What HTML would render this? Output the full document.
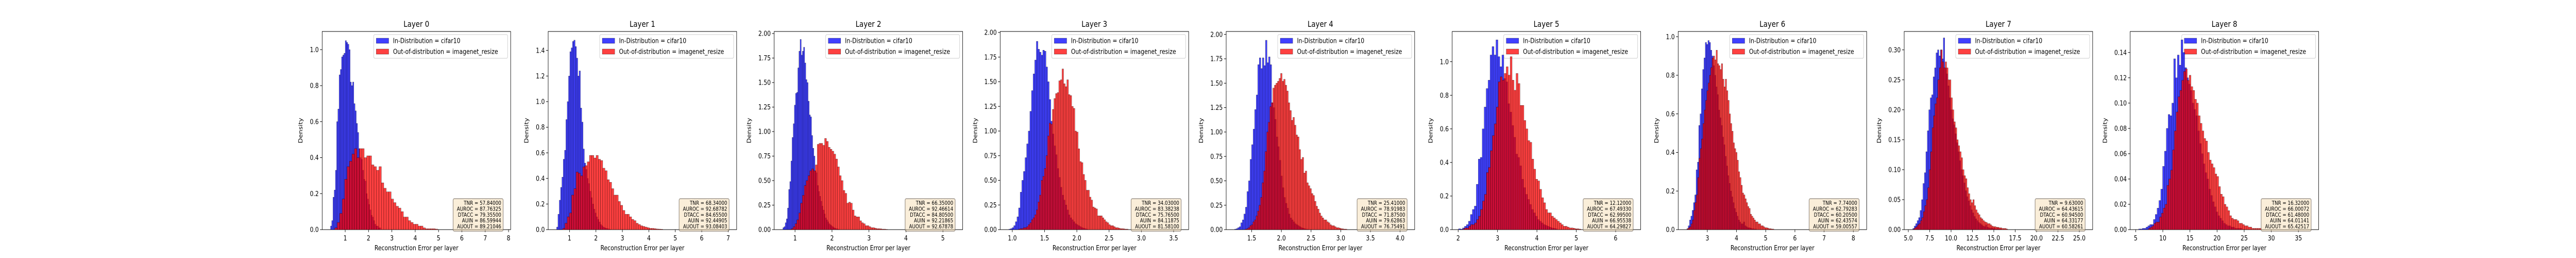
<!DOCTYPE html>
<html><head><meta charset="utf-8"><style>
html,body{margin:0;padding:0;background:#fff;width:100%;height:100%;overflow:hidden;}
svg{display:block;width:100vw;height:100vh;font-family:"DejaVu Sans","Liberation Sans",sans-serif;}
</style></head><body>
<svg id="fig" viewBox="0 0 6000 500" preserveAspectRatio="none" xmlns="http://www.w3.org/2000/svg"></svg>
<script>
// ---- data per layer ----
const layerTitles = ["Layer 0","Layer 1","Layer 2","Layer 3","Layer 4","Layer 5","Layer 6","Layer 7","Layer 8"];
const xDomains = [[0.013,8.09],[0.194,7.32],[0.436,5.534],[0.812,3.733],[1.070,4.245],[1.848,6.635],[2.002,8.457],[4.516,26.56],[3.983,38.73]];
const yMaxes = [1.101,1.548,2.021,2.010,2.030,1.180,1.027,0.3307,0.1566];
const xTicks = [[1,2,3,4,5,6,7,8],[1,2,3,4,5,6,7],[1,2,3,4,5],[1.0,1.5,2.0,2.5,3.0,3.5],[1.5,2.0,2.5,3.0,3.5,4.0],[2,3,4,5,6],[3,4,5,6,7,8],[5,7.5,10,12.5,15,17.5,20,22.5,25],[5,10,15,20,25,30,35]];
const xTickDecimals = [0,0,0,1,1,0,0,1,0];
const yTicks = [[0,0.2,0.4,0.6,0.8,1.0],[0,0.2,0.4,0.6,0.8,1.0,1.2,1.4],[0,0.25,0.5,0.75,1,1.25,1.5,1.75,2],[0,0.25,0.5,0.75,1,1.25,1.5,1.75,2],[0,0.25,0.5,0.75,1,1.25,1.5,1.75,2],[0,0.2,0.4,0.6,0.8,1.0],[0,0.2,0.4,0.6,0.8,1.0],[0,0.05,0.1,0.15,0.2,0.25,0.3],[0,0.02,0.04,0.06,0.08,0.1,0.12,0.14]];
const yTickDecimals = [1,1,2,2,2,1,1,2,2];
const inStart = [0.37,0.513,0.672,0.947,1.212,2.01,2.30,5.52,5.54];
const inWidth = [0.0526,0.05,0.031,0.025,0.026,0.05,0.045,0.17,0.34];
const outStart = [0.555,0.745,0.900,1.095,1.388,2.12,2.31,5.57,7.37];
const outWidth = [0.105,0.084,0.05,0.025,0.026,0.05,0.045,0.17,0.34];
const inVals = [
[0.02,0.05,0.18,0.22,0.33,0.6,0.67,0.86,0.89,0.96,0.97,0.98,1.05,1.04,1.03,1.0,0.82,0.8,0.82,0.70,0.66,0.59,0.54,0.45,0.40,0.39,0.33,0.28,0.27,0.2,0.17,0.14,0.11,0.08,0.07,0.05,0.03,0.02,0.02,0.01,0.01],
[0.02,0.12,0.23,0.33,0.41,0.55,0.62,0.86,1.0,1.2,1.39,1.42,1.47,1.48,1.43,1.34,1.2,1.24,0.95,0.84,0.63,0.52,0.47,0.4,0.36,0.3,0.25,0.2,0.16,0.13,0.1,0.08,0.06,0.04,0.03,0.02,0.015,0.01,0.008,0.005,0.003],
[0.02,0.03,0.07,0.11,0.22,0.41,0.49,0.7,0.94,1.08,1.27,1.39,1.40,1.65,1.82,1.94,1.78,1.82,1.86,1.7,1.53,1.5,1.31,1.17,1.15,0.96,0.83,0.75,0.6,0.58,0.45,0.39,0.34,0.29,0.24,0.2,0.16,0.12,0.1,0.08,0.06,0.05,0.04,0.03,0.02,0.015,0.01,0.008,0.005],
[0.005,0.01,0.02,0.04,0.08,0.13,0.22,0.38,0.5,0.59,0.73,0.87,1.0,1.2,1.41,1.58,1.72,1.91,1.83,1.8,1.77,1.82,1.81,1.65,1.5,1.32,1.1,0.97,0.85,0.76,0.62,0.53,0.43,0.35,0.3,0.25,0.2,0.15,0.12,0.1,0.08,0.06,0.05,0.04,0.03,0.02,0.015,0.01,0.005],
[0.005,0.01,0.02,0.03,0.07,0.1,0.16,0.23,0.39,0.5,0.72,0.87,1.03,1.23,1.38,1.69,1.76,1.65,1.76,1.68,1.94,1.71,1.77,1.69,1.3,1.25,1.13,0.95,0.85,0.71,0.55,0.43,0.33,0.27,0.22,0.16,0.12,0.1,0.08,0.06,0.05,0.04,0.03,0.02,0.015,0.01,0.005,0.005],
[0.005,0.003,0.01,0.02,0.03,0.05,0.09,0.12,0.14,0.27,0.42,0.43,0.6,0.73,0.84,0.89,1.04,1.09,1.04,1.13,1.03,0.97,1.04,0.9,0.88,0.75,0.7,0.62,0.55,0.45,0.43,0.38,0.3,0.25,0.21,0.18,0.15,0.12,0.1,0.08,0.06,0.05,0.04,0.03,0.025,0.02,0.015,0.01,0.008,0.005],
[0.005,0.02,0.05,0.07,0.1,0.14,0.18,0.31,0.35,0.54,0.6,0.73,0.83,0.89,0.97,0.96,0.98,0.97,0.93,0.9,0.85,0.8,0.74,0.7,0.62,0.58,0.54,0.48,0.44,0.38,0.33,0.28,0.24,0.2,0.17,0.14,0.11,0.09,0.07,0.05,0.04,0.03,0.03,0.04,0.02,0.015,0.01,0.01,0.008,0.005,0.005,0.003,0.003],
[0.002,0.006,0.01,0.015,0.02,0.032,0.05,0.077,0.095,0.13,0.165,0.2,0.22,0.225,0.255,0.27,0.295,0.3,0.29,0.3,0.285,0.32,0.27,0.26,0.24,0.22,0.2,0.185,0.175,0.16,0.145,0.13,0.115,0.1,0.09,0.078,0.065,0.055,0.048,0.04,0.033,0.028,0.022,0.018,0.015,0.012,0.01,0.008,0.006,0.005,0.008,0.004,0.003,0.002,0.003,0.002,0.002,0.001,0.002,0.001,0.001],
[0.0005,0.0005,0.001,0.001,0.002,0.003,0.004,0.004,0.008,0.012,0.017,0.023,0.032,0.05,0.062,0.08,0.091,0.09,0.1,0.135,0.12,0.138,0.13,0.15,0.14,0.128,0.12,0.115,0.11,0.1,0.095,0.09,0.078,0.068,0.06,0.052,0.045,0.04,0.032,0.027,0.022,0.018,0.014,0.011,0.009,0.007,0.005,0.004,0.003,0.003,0.002,0.002,0.001,0.001,0.001,0.001]
];
const outVals = [
[0.01,0.04,0.09,0.17,0.28,0.35,0.38,0.42,0.45,0.40,0.45,0.45,0.40,0.41,0.41,0.36,0.35,0.33,0.35,0.26,0.23,0.21,0.21,0.17,0.15,0.13,0.12,0.10,0.07,0.07,0.05,0.04,0.03,0.03,0.02,0.02,0.01,0.005,0.005,0.005,0.005,0.003],
[0.01,0.05,0.1,0.13,0.27,0.32,0.45,0.44,0.42,0.49,0.50,0.53,0.58,0.58,0.56,0.58,0.55,0.54,0.48,0.46,0.39,0.37,0.32,0.27,0.27,0.22,0.19,0.15,0.12,0.12,0.1,0.08,0.07,0.05,0.04,0.03,0.025,0.02,0.015,0.01,0.01,0.008,0.005,0.004,0.003],
[0.01,0.03,0.06,0.1,0.17,0.27,0.35,0.45,0.5,0.55,0.6,0.62,0.6,0.66,0.87,0.88,0.88,0.86,0.93,0.9,0.84,0.82,0.8,0.77,0.72,0.64,0.55,0.5,0.4,0.37,0.27,0.28,0.27,0.2,0.14,0.13,0.13,0.09,0.07,0.06,0.04,0.04,0.03,0.02,0.02,0.015,0.01,0.01,0.008,0.005,0.005,0.003],
[0.005,0.01,0.01,0.02,0.02,0.03,0.05,0.07,0.1,0.12,0.15,0.2,0.28,0.35,0.5,0.54,0.62,0.75,0.95,1.08,1.07,1.22,1.33,1.38,1.39,1.51,1.52,1.63,1.48,1.45,1.52,1.37,1.36,1.25,1.23,1.0,0.99,0.82,0.69,0.68,0.56,0.5,0.4,0.4,0.33,0.3,0.23,0.22,0.21,0.14,0.14,0.14,0.12,0.1,0.08,0.07,0.05,0.04,0.04,0.03,0.02,0.02,0.015,0.01,0.01,0.008,0.005,0.005],
[0.005,0.01,0.02,0.04,0.05,0.08,0.1,0.14,0.19,0.25,0.33,0.48,0.6,0.8,1.0,1.1,1.26,1.3,1.45,1.48,1.5,1.52,1.55,1.6,1.52,1.54,1.48,1.42,1.3,1.22,1.12,1.15,1.07,0.97,0.95,0.82,0.72,0.74,0.58,0.6,0.48,0.45,0.42,0.37,0.35,0.29,0.24,0.21,0.17,0.14,0.12,0.1,0.1,0.08,0.07,0.05,0.04,0.04,0.03,0.02,0.02,0.015,0.01,0.008,0.005,0.005],
[0.005,0.01,0.01,0.02,0.03,0.03,0.04,0.06,0.08,0.12,0.17,0.21,0.34,0.37,0.47,0.56,0.63,0.73,0.88,0.91,0.89,0.93,0.97,0.92,1.03,0.89,0.83,0.93,0.87,0.74,0.74,0.65,0.6,0.53,0.52,0.42,0.36,0.3,0.29,0.24,0.19,0.16,0.12,0.1,0.1,0.08,0.07,0.06,0.05,0.04,0.03,0.02,0.02,0.015,0.01,0.01,0.008,0.005,0.005,0.003],
[0.005,0.01,0.015,0.03,0.05,0.1,0.14,0.18,0.27,0.37,0.42,0.47,0.55,0.62,0.67,0.72,0.76,0.8,0.84,0.89,0.9,0.88,0.93,0.86,0.85,0.83,0.86,0.78,0.74,0.78,0.72,0.67,0.6,0.55,0.51,0.45,0.42,0.4,0.36,0.3,0.27,0.23,0.19,0.18,0.16,0.14,0.12,0.11,0.08,0.07,0.06,0.05,0.04,0.04,0.03,0.03,0.02,0.02,0.015,0.01,0.01,0.008,0.005,0.005,0.003,0.003],
[0.001,0.003,0.005,0.008,0.01,0.015,0.02,0.03,0.04,0.05,0.07,0.1,0.13,0.17,0.19,0.21,0.22,0.25,0.27,0.3,0.28,0.27,0.28,0.27,0.25,0.25,0.22,0.2,0.18,0.17,0.15,0.14,0.13,0.12,0.1,0.09,0.085,0.07,0.06,0.05,0.045,0.05,0.04,0.033,0.028,0.025,0.02,0.018,0.015,0.013,0.012,0.01,0.01,0.008,0.006,0.005,0.005,0.004,0.004,0.003,0.003,0.002,0.002,0.002,0.001],
[0.001,0.002,0.003,0.005,0.006,0.006,0.01,0.013,0.017,0.02,0.035,0.04,0.047,0.063,0.078,0.093,0.105,0.11,0.118,0.125,0.127,0.118,0.122,0.113,0.11,0.103,0.1,0.09,0.084,0.078,0.072,0.07,0.061,0.055,0.052,0.049,0.044,0.042,0.034,0.028,0.026,0.02,0.018,0.015,0.011,0.009,0.008,0.008,0.007,0.005,0.005,0.004,0.003,0.003,0.002,0.002,0.001,0.001,0.001,0.001,0.001]
];
const statNames = ["TNR","AUROC","DTACC","AUIN","AUOUT"];
const statVals = [
["57.84000","87.76325","79.35500","86.59944","89.21046"],
["68.34000","92.68782","84.65500","92.44905","93.08403"],
["66.35000","92.46614","84.80500","92.21865","92.67878"],
["34.03000","83.38238","75.76500","84.11875","81.58100"],
["25.41000","78.91983","71.87500","79.62863","76.75491"],
["12.12000","67.49330","62.99500","66.95538","64.29827"],
["7.74000","62.79283","60.20500","62.43574","59.00557"],
["9.63000","64.43615","60.94500","64.33177","60.58261"],
["16.32000","66.00072","61.48000","64.01141","65.42517"]
];
const legendLabels = ["In-Distribution = cifar10","Out-of-distribution = imagenet_resize"];

// ---- layout ----
const NS = "http://www.w3.org/2000/svg";
const svg = document.getElementById("fig");
const AX_LEFT0 = 750.4, AX_STEP = 526.4, AX_W = 439, AX_TOP = 61, AX_H = 384;
function mk(tag, attrs, parent, text) {
  const e = document.createElementNS(NS, tag);
  for (const k in attrs) e.setAttribute(k, attrs[k]);
  if (text !== undefined) e.textContent = text;
  (parent || svg).appendChild(e);
  return e;
}

for (let i = 0; i < layerTitles.length; i++) {
  const L = AX_LEFT0 + i * AX_STEP, T = AX_TOP, W = AX_W, H = AX_H, B = T + H;
  const [x0, x1] = xDomains[i], ymax = yMaxes[i];
  const sx = v => L + (v - x0) / (x1 - x0) * W;
  const sy = v => B - v / ymax * H;
  const g = mk("g", {});
  
  
  const clipId = "clip" + i;
  const cp = mk("clipPath", {id: clipId}, g);
  mk("rect", {x: L, y: T, width: W, height: H}, cp);

  const series = [
    {start: inStart[i], w: inWidth[i], vals: inVals[i], fill: "rgba(0,0,255,0.75)", name: "in-dist-bar"},
    {start: outStart[i], w: outWidth[i], vals: outVals[i], fill: "rgba(255,0,0,0.75)", name: "ood-bar"}
  ];
  series.forEach(s => {
    const sg = mk("g", {"clip-path": "url(#" + clipId + ")"}, g);
    
    
    s.vals.forEach((v, k) => {
      const xa = sx(s.start + k * s.w), xb = sx(s.start + (k + 1) * s.w);
      const r = mk("rect", {x: xa, y: sy(v), width: Math.max(0.5, xb - xa), height: B - sy(v), fill: s.fill, stroke: "rgba(0,0,0,0.6)", "stroke-width": 0.6});
      
      
    });
  });

  const fr = mk("rect", {x: L, y: T, width: W, height: H, fill: "none", stroke: "#000", "stroke-width": 1}, g);
  
  

  xTicks[i].forEach(t => {
    const x = sx(t);
    mk("line", {x1: x, x2: x, y1: B, y2: B + 5, stroke: "#000", "stroke-width": 1}, g);
    const tl = mk("text", {x: x, y: 466, "font-size": 13, "text-anchor": "middle", fill: "#000"}, g, t.toFixed(xTickDecimals[i]));
    
    
  });
  let maxLen = 0;
  yTicks[i].forEach(t => {
    const y = sy(t);
    mk("line", {x1: L - 5, x2: L, y1: y, y2: y, stroke: "#000", "stroke-width": 1}, g);
    const lab = t.toFixed(yTickDecimals[i]);
    maxLen = Math.max(maxLen, lab.length);
    const tl = mk("text", {x: L - 8, y: y + 4.7, "font-size": 13, "text-anchor": "end", fill: "#000"}, g, lab);
    
    
  });
  const yl = mk("text", {x: 0, y: 0, "font-size": 13, "text-anchor": "middle", fill: "#000",
    transform: "translate(" + (L - (8 * maxLen + 22)) + "," + (T + H / 2) + ") rotate(-90)"}, g, "Density");
  
  
  const xl = mk("text", {x: L + W / 2, y: 485, "font-size": 13, "text-anchor": "middle", fill: "#000"}, g, "Reconstruction Error per layer");
  
  
  const ti = mk("text", {x: L + W / 2, y: 52, "font-size": 16, "text-anchor": "middle", fill: "#000"}, g, layerTitles[i]);
  
  

  const lg = mk("g", {}, g);
  
  
  mk("rect", {x: L + 120, y: T + 6, width: 312, height: 46, rx: 3, fill: "rgba(255,255,255,0.8)", stroke: "#ccc", "stroke-width": 1}, lg);
  const legFills = ["rgba(0,0,255,0.75)", "rgba(255,0,0,0.75)"];
  legendLabels.forEach((lbl, k) => {
    const cy = 79 + k * 21;
    const p = mk("rect", {x: L + 126, y: cy - 5, width: 29, height: 10, fill: legFills[k], stroke: "rgba(0,0,0,0.6)", "stroke-width": 0.6}, lg);
    
    
    const lt = mk("text", {x: L + 165, y: cy + 4.7, "font-size": 13, fill: "#000"}, lg, lbl);
    
    
  });

  const sb = mk("g", {}, g);
  
  
  mk("rect", {x: L + 305, y: 385, width: 116.5, height: 63, rx: 3, fill: "rgba(245,222,179,0.5)", stroke: "rgba(100,90,80,0.6)", "stroke-width": 1.5}, sb);
  statNames.forEach((n, k) => {
    const st = mk("text", {x: L + 417, y: 397 + k * 11.4, "font-size": 10.5, "text-anchor": "end", fill: "#000"}, sb, n + " = " + statVals[i][k]);
    
    
  });
}
</script>
</body></html>
